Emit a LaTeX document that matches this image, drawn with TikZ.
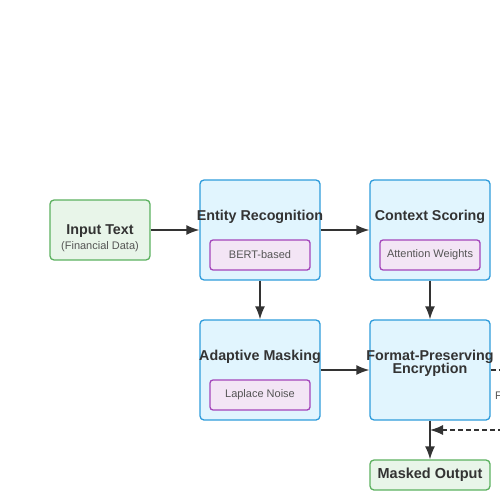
\documentclass[tikz,border=0pt]{standalone}
\usepackage{fontspec}
\setmainfont{Liberation Sans}
\usetikzlibrary{arrows.meta}
\definecolor{stagefill}{HTML}{E1F5FE}
\definecolor{stageline}{HTML}{2E9CDB}
\definecolor{iofill}{HTML}{E8F5E9}
\definecolor{ioline}{HTML}{5CB160}
\definecolor{subfill}{HTML}{F3E5F5}
\definecolor{subline}{HTML}{A445BA}
\definecolor{ink}{HTML}{333333}
\definecolor{subink}{HTML}{555555}
\begin{document}
\begin{tikzpicture}[
    x=1pt, y=-1pt,
    stage/.style={rectangle, draw=stageline, fill=stagefill, line width=1.3pt, minimum width=120pt, minimum height=100pt, rounded corners=4pt},
    iobox/.style={rectangle, draw=ioline, fill=iofill, line width=1.3pt, rounded corners=4pt, text=ink, font=\fontsize{14.5}{16}\selectfont\bfseries},
    subbox/.style={rectangle, draw=subline, fill=subfill, line width=1.3pt, minimum width=100pt, minimum height=30pt, rounded corners=3pt, text=subink, font=\fontsize{11}{13}\selectfont},
    title/.style={text=ink, font=\fontsize{14.3}{15}\selectfont\bfseries, align=center, inner sep=0pt},
    flow/.style={-{Latex[length=13pt, width=10pt]}, draw=ink, line width=1.4pt}
]
\useasboundingbox (0,0) rectangle (500,500);

% Input
\node[iobox, minimum width=100pt, minimum height=60pt] (input) at (100,230) {};
\node[title] (inputtitle) at (100,231.5) {Input Text};
\node[text=subink, font=\fontsize{11}{13}\selectfont, inner sep=0pt] (inputsub) at (100,246.5) {(Financial Data)};

% Top row
\node[stage] (entity) at (260,230) {};
\node[title] (entitytitle) at (260,216.5) {Entity Recognition};
\node[subbox] (bert) at (260,255) {BERT-based};

\node[stage] (context) at (430,230) {};
\node[title] (contexttitle) at (430,216.5) {Context Scoring};
\node[subbox] (attn) at (430,255) {Attention Weights};

% Bottom row
\node[stage] (mask) at (260,370) {};
\node[title] (masktitle) at (260,356.5) {Adaptive Masking};
\node[subbox] (laplace) at (260,395) {Laplace Noise};

\node[stage] (fpe) at (430,370) {};
\node[title] (fpetitle) at (430,363.5) {Format-Preserving\\[-1.5pt]Encryption};

% Output
\node[iobox, minimum width=120pt, minimum height=30pt] (output) at (430,475) {Masked Output};

% Arrows
\draw[flow] (input) -- (entity);
\draw[flow] (entity) -- (context);
\draw[flow] (entity) -- (mask);
\draw[flow] (context) -- (fpe);
\draw[flow] (mask) -- (fpe);
\draw[flow] (fpe) -- (output);

% Feedback loop
\coordinate (loopin) at (430,430);
\draw[flow, dashed, dash pattern=on 5pt off 3pt] (fpe.east) -- ++(40,0) |- (loopin);
\node[text=subink, font=\fontsize{11}{13}\selectfont, anchor=west, inner sep=0pt] (looplabel) at (495,396) {F};

\end{tikzpicture}
\end{document}
